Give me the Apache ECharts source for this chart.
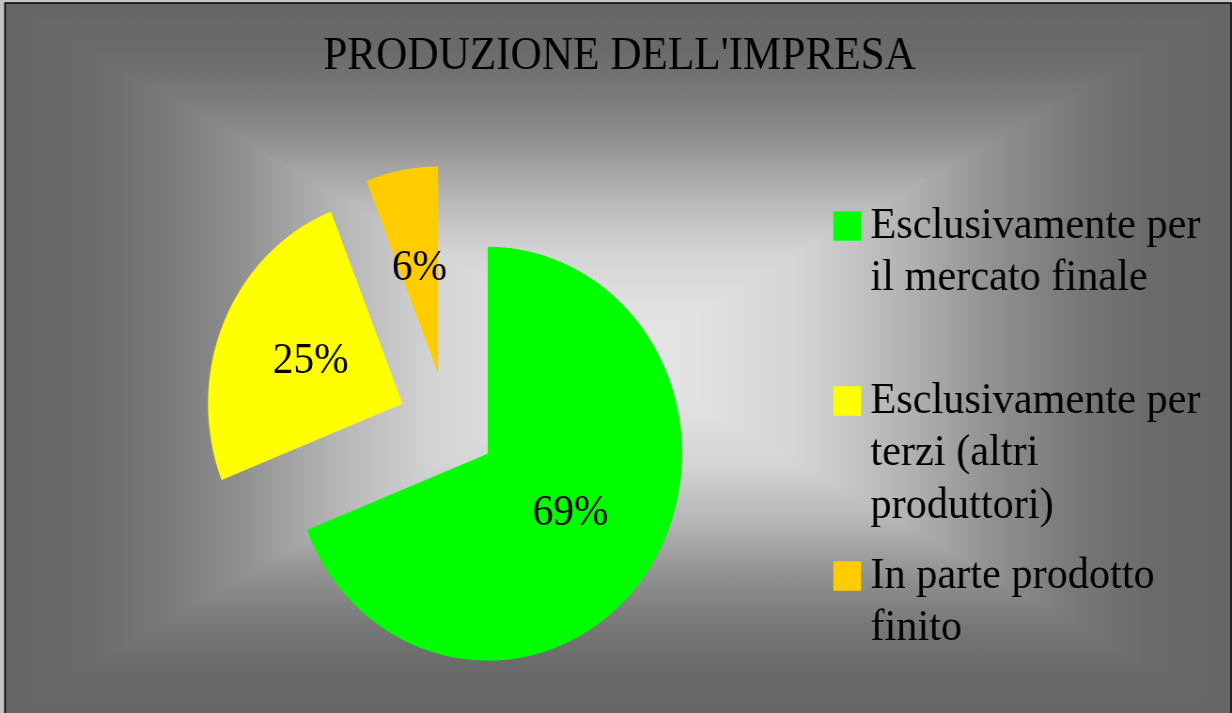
<!DOCTYPE html>
<html>
<head>
<meta charset="utf-8">
<script src="https://cdn.jsdelivr.net/npm/echarts@6/dist/echarts.min.js"></script>
<style>
html, body { margin: 0; padding: 0; background: #c4c4c4; overflow: hidden; width: 1232px; height: 713px; }
/* the reference picture is horizontally compressed (pixels ~0.94 wide); reproduce it */
#main { width: 1311px; height: 713px; transform: scaleX(0.93974); transform-origin: 0 0; }
</style>
</head>
<body>
<div id="main"></div>
<script>
// ---- data ----
const chartTitle = "PRODUZIONE DELL'IMPRESA";
const categories = [
  'Esclusivamente per\nil mercato finale',
  'Esclusivamente per\nterzi (altri\nproduttori)',
  'In parte prodotto\nfinito'
];
const values = [69, 25, 6];
const colors = ['#00ff00', '#ffff00', '#ffcc00'];

// ---- layout / style ----
const FONT = "'Liberation Serif', 'Times New Roman', serif";
const W = 1311, H = 713;
const FL = 5.32, FT = 3, FR = 1310, FB = 714;      // frame (unscaled coords)
const legendTops = [147.25, 269.75, 497.25];
const labelOffsets = [[0, 5], [0, 0], [0, 2]];

// rectangular "from centre" gradient profile: s = 0 at edge, 1 at centre
const profile = [
  [0, '#666666'], [0.14, '#6b6b6b'], [0.25, '#787878'], [0.38, '#8f8f8f'],
  [0.54, '#b5b5b5'], [0.70, '#d4d4d4'], [0.87, '#e2e2e2'], [1, '#e6e6e6']
];
function mirrored() {
  const stops = [];
  profile.forEach(p => stops.push({ offset: p[0] / 2, color: p[1] }));
  for (let i = profile.length - 2; i >= 0; i--) stops.push({ offset: 1 - profile[i][0] / 2, color: profile[i][1] });
  return stops;
}
const cx = (FL + FR) / 2, cy = (FT + FB) / 2;
const hGrad = { type: 'linear', x: FL, y: 0, x2: FR, y2: 0, global: true, colorStops: mirrored() };
const vGrad = { type: 'linear', x: 0, y: FT, x2: 0, y2: FB, global: true, colorStops: mirrored() };

const chart = echarts.init(document.getElementById('main'), null, { renderer: 'canvas', width: W, height: H });

const option = {
  animation: false,
  backgroundColor: 'transparent',
  graphic: {
    elements: [
      { type: 'rect', z: -30, silent: true, shape: { x: FL, y: FT, width: FR - FL, height: FB - FT }, style: { fill: hGrad } },
      { type: 'polygon', z: -29, silent: true, shape: { points: [[FL, FT], [FR, FT], [cx, cy]] }, style: { fill: vGrad } },
      { type: 'polygon', z: -29, silent: true, shape: { points: [[FL, FB], [FR, FB], [cx, cy]] }, style: { fill: vGrad } },
      { type: 'rect', z: -28, silent: true, shape: { x: FL, y: FT, width: FR - FL, height: FB - FT }, style: { fill: 'none', stroke: '#000', lineWidth: 1.6 } }
    ]
  },
  title: {
    text: chartTitle,
    left: 344,
    top: 34,
    padding: 0,
    textStyle: { fontFamily: FONT, fontSize: 46, fontWeight: 'normal', color: '#000' }
  },
  legend: categories.map((name, i) => ({
    data: [name],
    orient: 'vertical',
    left: 886.8,
    top: legendTops[i],
    padding: 0,
    icon: 'rect',
    itemWidth: 29.5,
    itemHeight: 29.5,
    selectedMode: false,
    formatter: n => '\n'.repeat(n.split('\n').length - 1) + n,
    itemStyle: { borderWidth: 0 },
    textStyle: { fontFamily: FONT, fontSize: 45, lineHeight: 52.5, color: '#000', padding: [0, 0, 0, 5] }
  })),
  series: [{
    type: 'pie',
    center: [476, 424.5],
    radius: 207,
    startAngle: 90,
    clockwise: true,
    selectedMode: 'multiple',
    selectedOffset: 52,
    avoidLabelOverlap: false,
    itemStyle: { borderWidth: 0 },
    emphasis: { disabled: true },
    label: {
      show: true,
      position: 'inside',
      formatter: '{d}%',
      fontFamily: FONT,
      fontSize: 44,
      color: '#000'
    },
    labelLine: { show: false },
    data: categories.map((n, i) => ({
      name: n,
      value: values[i],
      selected: true,
      itemStyle: { color: colors[i] },
      label: { offset: labelOffsets[i] }
    }))
  }]
};
chart.setOption(option);
</script>
</body>
</html>
